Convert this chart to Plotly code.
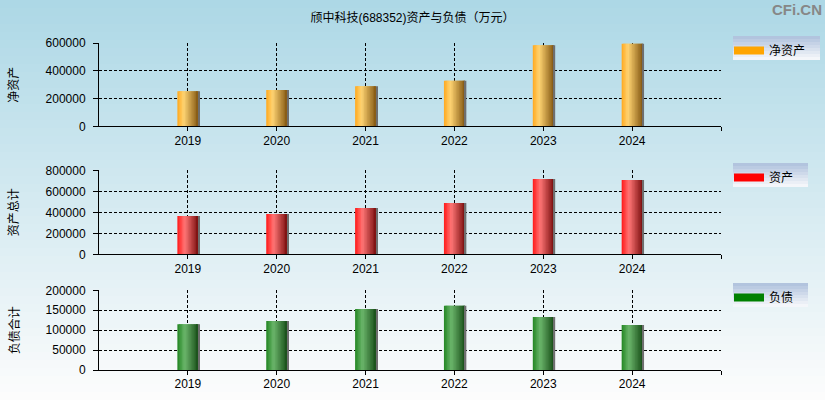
import plotly.graph_objects as go

# ---------------- data ----------------
years = [2019, 2020, 2021, 2022, 2023, 2024]
tick_years = [2019, 2020, 2021, 2022, 2023, 2024, 2025]
tick_text = ["2019", "2020", "2021", "2022", "2023", "2024", ""]
net_assets = [253000, 261000, 288000, 328000, 584000, 595000]
total_assets = [365000, 384000, 441000, 489000, 717000, 708000]
liabilities = [115000, 123000, 153000, 161000, 133000, 113000]

title = "颀中科技(688352)资产与负债（万元）"
panel_titles = ["净资产", "资产总计", "负债合计"]
legend_names = ["净资产", "资产", "负债"]

# ---------------- geometry ----------------
W, H = 825, 400
ML, MR, MT, MB = 99, 104, 43, 30
PW = W - ML - MR
PH = H - MT - MB


def px_x(px):
    return (px - ML) / PW


def px_y(py):
    return (H - MB - py) / PH


domains = [
    [px_y(126.3), px_y(43)],
    [px_y(254.3), px_y(170.3)],
    [px_y(370), px_y(290.3)],
]

FONT = "Liberation Sans, Noto Sans CJK SC, sans-serif"

grad_stops = [
    [(0, (255, 168, 30)), (0.3, (255, 212, 115)), (1, (132, 88, 18))],
    [(0, (255, 25, 25)), (0.35, (255, 118, 118)), (1, (122, 14, 14))],
    [(0, (34, 134, 34)), (0.35, (108, 182, 108)), (1, (24, 78, 24))],
]
solid = ["#FFA500", "#FF0000", "#008000"]
series = [net_assets, total_assets, liabilities]
ranges = [[0, 600000], [0, 800000], [0, 200000]]
dticks = [200000, 200000, 50000]


def interp(stops, t):
    for (t0, c0), (t1, c1) in zip(stops[:-1], stops[1:]):
        if t0 <= t <= t1:
            f = (t - t0) / (t1 - t0) if t1 > t0 else 0
            return "rgb(%d,%d,%d)" % tuple(round(a + (b - a) * f) for a, b in zip(c0, c1))
    return "rgb(%d,%d,%d)" % stops[-1][1]


fig = go.Figure()
BW = 0.236
N = 14
for k in range(3):
    xa = "x" if k == 0 else "x%d" % (k + 1)
    ya = "y" if k == 0 else "y%d" % (k + 1)
    for i in range(N):
        t = (i + 0.5) / N
        w = BW / N * (2 if i < N - 1 else 1)
        fig.add_trace(go.Bar(
            x=years, y=series[k], width=w, offset=-BW / 2 + i * BW / N,
            marker=dict(color=interp(grad_stops[k], t), line=dict(width=0)),
            showlegend=False, hoverinfo="skip", xaxis=xa, yaxis=ya))
    # thin grey edge on the right side
    fig.add_trace(go.Bar(
        x=years, y=series[k], width=0.016, offset=BW / 2,
        marker=dict(color="rgb(110,110,110)", line=dict(width=0)),
        showlegend=False, hoverinfo="skip", xaxis=xa, yaxis=ya))
    # legend entry
    fig.add_trace(go.Scatter(
        x=[None], y=[None], mode="lines", name=legend_names[k],
        line=dict(color=solid[k], width=8),
        legend="legend" if k == 0 else "legend%d" % (k + 1),
        xaxis=xa, yaxis=ya))

layout = dict(
    template="none",
    width=W, height=H, autosize=False,
    margin=dict(l=ML, r=MR, t=MT, b=MB, autoexpand=False),
    paper_bgcolor="#f4f8fa",
    plot_bgcolor="rgba(0,0,0,0)",
    barmode="overlay",
    font=dict(family=FONT, size=12, color="black"),
    title=dict(text=title, x=0.5, xanchor="center", y=1 - 18 / H, yanchor="middle",
               yref="container", font=dict(family=FONT, size=12, color="black")),
    showlegend=True,
)

for k in range(3):
    sx = "" if k == 0 else str(k + 1)
    layout["xaxis" + sx] = dict(
        domain=[0, 1], anchor="y" + sx, range=[2018, 2025], automargin=False,
        tickmode="array", tickvals=tick_years, ticktext=tick_text,
        ticks="outside", ticklen=4, tickcolor="black", tickwidth=1,
        showline=True, linecolor="black", linewidth=1,
        showgrid=True, gridcolor="black", gridwidth=1, griddash="3px,2px",
        zeroline=False, fixedrange=True, ticklabelstandoff=-1,
        tickfont=dict(family=FONT, size=12, color="black"))
    layout["yaxis" + sx] = dict(
        domain=domains[k], anchor="x" + sx, range=ranges[k], automargin=False,
        tickmode="linear", tick0=0, dtick=dticks[k], tickformat="d",
        ticks="outside", ticklen=5, tickcolor="black", tickwidth=1,
        showline=True, linecolor="black", linewidth=1,
        showgrid=True, gridcolor="black", gridwidth=1, griddash="3px,2px",
        zeroline=False, fixedrange=True, ticklabelstandoff=5,
        tickfont=dict(family=FONT, size=12, color="black"))

legend_boxes = [(733, 820, 36, 60), (733, 808, 163, 187), (733, 808, 283, 307)]
for k in range(3):
    key = "legend" if k == 0 else "legend%d" % (k + 1)
    x0, x1, y0, y1 = legend_boxes[k]
    layout[key] = dict(
        x=px_x(x0 - 4), xanchor="left", y=px_y(y0), yanchor="top",
        bgcolor="rgba(0,0,0,0)", borderwidth=0,
        font=dict(family=FONT, size=12, color="black"),
        itemwidth=30)

fig.update_layout(**layout)

shapes = []
# background vertical gradient
NS = 50
top_c = (173, 216, 230)
bot_c = (252, 252, 252)
for i in range(NS):
    f = i / (NS - 1)
    c = tuple(round(a + (b - a) * f) for a, b in zip(top_c, bot_c))
    py0 = H * i / NS
    py1 = H * (i + 1) / NS + 1
    shapes.append(dict(type="rect", xref="paper", yref="paper", layer="below",
                       x0=px_x(0), x1=px_x(W), y0=px_y(py1), y1=px_y(py0),
                       fillcolor="rgb(%d,%d,%d)" % c, line=dict(width=0)))
# legend box gradients
for (x0, x1, y0, y1) in legend_boxes:
    n = 8
    for i in range(n):
        f = i / (n - 1)
        c = tuple(round(a + (b - a) * f) for a, b in zip((178, 196, 222), (244, 246, 250)))
        a0 = y0 + (y1 - y0) * i / n
        a1 = y0 + (y1 - y0) * (i + 1) / n + 0.5
        shapes.append(dict(type="rect", xref="paper", yref="paper", layer="below",
                           x0=px_x(x0), x1=px_x(x1), y0=px_y(min(a1, y1)), y1=px_y(a0),
                           fillcolor="rgb(%d,%d,%d)" % c, line=dict(width=0)))

annotations = []
panel_centers = [(43 + 126.3) / 2, (170.3 + 254.3) / 2, (290.3 + 370) / 2]
for k in range(3):
    annotations.append(dict(text=panel_titles[k], xref="paper", yref="paper",
                            x=px_x(14), y=px_y(panel_centers[k]), textangle=-90,
                            showarrow=False, xanchor="center", yanchor="middle",
                            font=dict(family=FONT, size=12, color="black")))
annotations.append(dict(text="<b>CFi.CN</b>", xref="paper", yref="paper",
                        x=px_x(824), y=px_y(10), xanchor="right", yanchor="middle",
                        showarrow=False,
                        font=dict(family=FONT, size=15, color="rgb(135,135,135)")))

fig.update_layout(shapes=shapes, annotations=annotations)

fig.write_html("out.html", config={"displayModeBar": False},
               post_script="document.body.style.margin='0';document.body.style.padding='0';")
